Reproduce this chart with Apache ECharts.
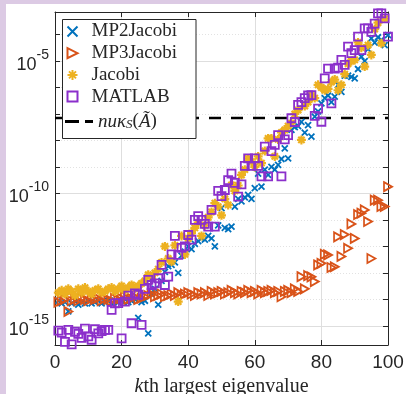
<!DOCTYPE html>
<html><head><meta charset="utf-8">
<script src="https://cdn.jsdelivr.net/npm/echarts@6/dist/echarts.min.js"></script>
<style>
html,body{margin:0;padding:0;background:#fff}
#wrap{position:relative;width:406px;height:394px;background:#dccae4;overflow:hidden}
#paper{position:absolute;left:6px;top:4px;right:0;bottom:0;background:#fff}
#c{position:absolute;left:0;top:0;width:406px;height:394px}
</style>
</head><body>
<div id="wrap"><div id="paper"></div><div id="c"></div></div>
<script>
// k-th largest eigenvalue index
const kth = [1,2,3,4,5,6,7,8,9,10,11,12,13,14,15,16,17,18,19,20,21,22,23,24,25,26,27,28,29,30,
31,32,33,34,35,36,37,38,39,40,41,42,43,44,45,46,47,48,49,50,51,52,53,54,55,56,57,58,59,60,
61,62,63,64,65,66,67,68,69,70,71,72,73,74,75,76,77,78,79,80,81,82,83,84,85,86,87,88,89,90,
91,92,93,94,95,96,97,98,99,100];

// relative errors
const mp2Jacobi = [8.9e-15,7.1e-15,7.9e-15,3.5e-15,7.1e-15,8.9e-15,6.3e-15,7.9e-15,7.1e-15,8.9e-15,
7.1e-15,7.9e-15,8.9e-15,7.1e-15,7.9e-15,8.9e-15,7.1e-15,8.9e-15,7.9e-15,8.9e-15,
1.0e-14,7.9e-15,8.9e-15,1.0e-14,2.0e-15,7.9e-15,8.9e-15,5.2e-16,1.6e-14,2.5e-14,
6.3e-15,5.0e-14,1.1e-13,1.8e-13,2.0e-13,2.5e-13,1.0e-13,4.5e-13,6.3e-13,1.0e-12,
7.9e-13,1.26e-12,1.6e-12,2.0e-12,1.8e-12,2.5e-12,2.0e-12,1.0e-12,6.3e-12,2.8e-11,
5.0e-12,4.5e-12,5.6e-12,3.2e-11,6.3e-11,5.0e-11,7.1e-11,8.9e-11,6.3e-11,1.6e-10,
5.6e-10,1.8e-10,7.9e-10,5.0e-10,1.0e-9,7.9e-10,1.2e-9,2.0e-9,5.0e-9,2.1e-9,
2.5e-8,3.2e-8,3.5e-8,5.0e-8,2.0e-8,3.8e-8,1.4e-8,7.9e-8,1.26e-7,2.5e-7,
4.0e-7,5.0e-7,2.8e-7,4.5e-7,1.26e-6,6.9e-7,2.8e-6,2.8e-6,2.5e-6,2.2e-6,
5.0e-6,1.45e-5,1.0e-5,2.8e-5,7.1e-5,5.0e-5,7.9e-5,6.3e-5,4.0e-5,9.5e-5];

const mp3Jacobi = [7.9e-15,8.9e-15,1.0e-14,3.5e-15,8.9e-15,1.0e-14,8.9e-15,1.1e-14,1.0e-14,8.9e-15,
1.1e-14,1.0e-14,1.1e-14,8.9e-15,1.1e-14,1.0e-14,8.9e-15,1.1e-14,1.0e-14,1.1e-14,
1.26e-14,1.0e-14,1.1e-14,1.26e-14,1.0e-14,1.1e-14,1.26e-14,1.4e-14,1.6e-14,1.26e-14,
1.4e-14,1.6e-14,1.26e-14,1.4e-14,1.6e-14,1.4e-14,1.8e-14,1.4e-14,1.6e-14,1.8e-14,
1.6e-14,1.4e-14,1.8e-14,1.6e-14,1.8e-14,1.4e-14,2.0e-14,1.6e-14,1.8e-14,2.0e-14,
1.6e-14,1.8e-14,2.2e-14,1.8e-14,1.6e-14,2.0e-14,1.8e-14,2.2e-14,1.8e-14,2.0e-14,
1.6e-14,2.2e-14,1.8e-14,2.0e-14,2.2e-14,1.8e-14,2.0e-14,1.26e-14,2.0e-14,2.2e-14,
1.8e-14,2.5e-14,2.0e-14,7.2e-14,2.5e-14,7.9e-14,7.1e-14,4.7e-14,2.0e-13,2.3e-13,
5.0e-13,4.8e-13,1.6e-13,1.7e-13,2.3e-12,4.2e-13,2.8e-12,8.5e-13,7.1e-12,2.0e-12,
1.6e-11,1.8e-11,2.4e-11,8.7e-12,3.5e-13,5.6e-11,5.6e-11,3.2e-11,3.2e-11,1.8e-10];

const jacobi = [1.8e-14,2.2e-14,1.6e-14,2.5e-14,2.0e-14,1.4e-14,2.5e-14,1.8e-14,2.8e-14,2.0e-14,
1.6e-14,2.2e-14,2.5e-14,1.8e-14,2.0e-14,2.5e-14,2.8e-14,2.0e-14,2.5e-14,3.2e-14,
2.2e-14,2.8e-14,3.5e-14,2.5e-14,3.2e-14,4.0e-14,5.0e-14,8.5e-14,6.3e-14,1.0e-13,
1.4e-13,2.5e-13,1.0e-12,3.5e-13,2.7e-13,1.1e-12,8.3e-15,2.5e-12,5.0e-13,2.0e-12,
3.2e-12,5.0e-12,7.9e-12,2.5e-12,6.3e-12,1.26e-11,2.0e-11,4.3e-11,3.2e-11,1.5e-11,
6.3e-11,3.7e-11,2.1e-10,1.26e-10,2.0e-10,5.0e-10,7.9e-10,2.1e-9,1.6e-9,1.0e-9,
2.5e-9,1.4e-9,4.0e-9,1.2e-8,1.2e-8,2.5e-9,1.1e-8,2.0e-8,2.5e-8,3.5e-8,
4.5e-8,1.0e-7,1.4e-7,1.05e-8,2.0e-7,2.8e-7,5.0e-7,4.0e-7,1.26e-6,1.0e-6,
7.9e-7,8.9e-7,1.6e-6,2.0e-6,7.9e-7,1.26e-6,3.2e-6,7.9e-6,1.0e-5,1.1e-5,
5.0e-5,3.2e-5,6.2e-6,4.0e-5,1.7e-5,1.6e-4,2.8e-4,4.7e-5,4.0e-4,7.2e-4];

const matlab = [6.6e-16,5.6e-16,2.5e-16,7.1e-16,2.0e-16,6.0e-16,5.0e-16,3.5e-16,7.9e-16,4.0e-16,
3.0e-16,7.6e-16,5.2e-16,6.3e-16,7.1e-16,7.1e-16,4.0e-15,7.1e-15,7.2e-15,3.4e-16,
8.3e-15,1.4e-14,1.26e-15,1.7e-14,1.5e-14,1.1e-15,2.5e-14,5.5e-14,3.5e-14,4.0e-14,
6.3e-14,2.0e-13,3.5e-14,7.2e-14,5.0e-13,2.5e-12,4.8e-13,8.9e-13,1.0e-12,2.7e-12,
1.8e-12,1.0e-11,1.4e-11,1.0e-11,7.1e-12,5.6e-12,2.4e-11,5.6e-12,1.26e-10,7.9e-11,
1.35e-10,3.2e-10,5.6e-10,2.5e-10,7.6e-11,2.2e-10,1.1e-9,2.1e-9,1.1e-9,2.1e-9,
1.1e-9,4.4e-10,5.9e-9,4.4e-10,4.0e-9,6.8e-9,1.6e-8,4.4e-10,1.1e-8,1.6e-8,
6.9e-8,5.0e-8,2.2e-7,2.8e-7,4.0e-7,5.0e-7,5.2e-7,8.5e-8,1.6e-7,5.1e-8,
2.2e-6,5.2e-6,2.5e-7,5.2e-6,5.6e-6,1.1e-5,7.1e-6,3.5e-5,2.0e-5,2.6e-5,
8.3e-5,2.6e-5,1.7e-4,1.7e-4,1.26e-4,2.6e-4,6.3e-4,6.3e-4,4.1e-4,8.3e-5];

// n u kappa_S(A~) threshold
const thresholdX = [0, 100];
const thresholdY = [7.0e-8, 7.0e-8];

const xTicks = [0, 20, 40, 60, 80, 100];
const yTickValues = [1e-15, 1e-14, 1e-13, 1e-12, 1e-11, 1e-10, 1e-9, 1e-8, 1e-7, 1e-6, 1e-5, 1e-4];
const yLabelValues = [1e-15, 1e-10, 1e-5];

const C_MP2 = '#0072BD', C_MP3 = '#D95319', C_JAC = '#EDB120', C_MAT = '#8B2FCB';
const AX = '#262626';
const pair = arr => arr.map((v, i) => [kth[i], v]);

const chart = echarts.init(document.getElementById('c'), null, {renderer: 'canvas'});
const yMin = 1.9e-16, yMax = 7.1e-4;

function yFmt(v) {
  const num = typeof v === 'number' ? v : parseFloat(v);
  const l = num > 0 ? Math.log10(num) : num;
  const e = Math.round(l);
  if (Math.abs(l - e) > 0.01) return '';
  return '{b|10}{s|' + e + '}';
}

const baseY = {type: 'log', logBase: 10, min: yMin, max: yMax, gridIndex: 0};

chart.setOption({
  backgroundColor: 'transparent',
  animation: false,
  grid: {left: 55, right: 18, top: 12, bottom: 49, containLabel: false, outerBoundsMode: 'none'},
  xAxis: [{
    type: 'value', min: 0, max: 100, interval: 20, position: 'bottom',
    axisLine: {show: true, lineStyle: {color: AX, width: 1}},
    axisTick: {show: true, inside: true, length: 5, lineStyle: {color: AX}},
    axisLabel: {color: AX, fontFamily: 'Liberation Sans', fontSize: 19, margin: 8,
      formatter: v => xTicks.indexOf(v) >= 0 ? String(v) : ''},
    splitLine: {show: true, lineStyle: {color: '#dedede', width: 1}},
    name: '{i|k}th largest eigenvalue', nameLocation: 'middle', nameGap: 27.5,
    nameTextStyle: {color: AX, fontFamily: 'Liberation Serif', fontSize: 20,
      rich: {i: {fontStyle: 'italic', fontFamily: 'Liberation Serif', fontSize: 20, color: AX}}}
  }, {
    type: 'value', min: 0, max: 100, interval: 20, position: 'top',
    axisLine: {show: true, lineStyle: {color: AX, width: 1}},
    axisTick: {show: true, inside: true, length: 5, lineStyle: {color: AX}},
    axisLabel: {show: false}, splitLine: {show: false}
  }],
  yAxis: [Object.assign({}, baseY, {
    position: 'left',
    axisLine: {show: true, lineStyle: {color: AX, width: 1}},
    axisTick: {show: true, inside: true, length: 5, lineStyle: {color: AX}, customValues: yTickValues},
    axisLabel: {show: true, margin: 6, formatter: yFmt, hideOverlap: false, customValues: yLabelValues,
      color: AX, fontFamily: 'Liberation Sans', fontSize: 18,
      rich: {
        b: {fontFamily: 'Liberation Sans', fontSize: 18, color: AX, padding: [8, 0, 0, 0]},
        s: {fontFamily: 'Liberation Sans', fontSize: 14, color: AX, verticalAlign: 'top'}
      }},
    splitLine: {show: true, lineStyle: {color: '#e2e2e2', width: 1, type: [1, 2]}}
  }), Object.assign({}, baseY, {
    position: 'left',
    axisLine: {show: false},
    axisTick: {show: false, customValues: yLabelValues},
    axisLabel: {show: false, customValues: yLabelValues},
    splitLine: {show: true, lineStyle: {color: '#dedede', width: 1}}
  }), Object.assign({}, baseY, {
    position: 'right',
    axisLine: {show: true, lineStyle: {color: AX, width: 1}},
    axisTick: {show: true, inside: true, length: 5, lineStyle: {color: AX}, customValues: yTickValues},
    axisLabel: {show: false, customValues: yLabelValues}, splitLine: {show: false}
  })],
  graphic: [{
    type: 'rect', z: 3, shape: {x: 62.5, y: 19.5, width: 133.5, height: 119},
    style: {fill: '#fff', stroke: AX, lineWidth: 1}
  }],
  legend: [{
    orient: 'vertical', left: 65, top: 22, itemWidth: 28, itemHeight: 10, itemGap: 2.7,
    padding: 0, z: 5,
    data: ['MP2Jacobi', 'MP3Jacobi', 'Jacobi', 'MATLAB'],
    textStyle: {fontFamily: 'Liberation Serif', fontSize: 19, color: AX}
  }, {
    orient: 'vertical', left: 65, top: 112, itemWidth: 28, itemHeight: 10,
    padding: 0, z: 5,
    data: [{name: 'nuk', icon: 'path://M0,0H14V2.8H0Z M20,0H28V2.8H20Z', itemStyle: {color: '#000', borderWidth: 0}}],
    formatter: () => '{i|nuκ}{sub|S}{n|(}{i|Ã}{n|)}',
    textStyle: {fontFamily: 'Liberation Serif', fontSize: 19, color: AX,
      rich: {
        i: {fontFamily: 'Liberation Serif', fontStyle: 'italic', fontSize: 19, color: AX},
        n: {fontFamily: 'Liberation Serif', fontSize: 19, color: AX},
        sub: {fontFamily: 'Liberation Serif', fontStyle: 'italic', fontSize: 13, color: AX, verticalAlign: 'bottom'}
      }}
  }],
  series: [{
    name: 'nuk', type: 'line', xAxisIndex: 0, yAxisIndex: 0, z: 2,
    data: thresholdX.map((x, i) => [x, thresholdY[i]]),
    symbol: 'none', silent: true,
    itemStyle: {color: '#000'},
    lineStyle: {color: '#000', width: 2.5, type: [12, 10]}
  }, {
    name: 'MP2Jacobi', type: 'scatter', xAxisIndex: 0, yAxisIndex: 0, z: 2,
    data: pair(mp2Jacobi),
    symbol: 'path://M0,0L10,10M10,0L0,10', symbolSize: 6,
    itemStyle: {color: 'none', borderColor: C_MP2, borderWidth: 1.8, opacity: 1}
  }, {
    name: 'MP3Jacobi', type: 'scatter', xAxisIndex: 0, yAxisIndex: 0, z: 2,
    data: pair(mp3Jacobi),
    symbol: 'path://M0,0L10,5L0,10Z', symbolSize: [8, 9],
    itemStyle: {color: 'none', borderColor: C_MP3, borderWidth: 1.8, opacity: 1}
  }, {
    name: 'Jacobi', type: 'scatter', xAxisIndex: 0, yAxisIndex: 0, z: 2,
    data: pair(jacobi),
    symbol: 'path://M5,0L5,10M0,5L10,5M1.5,1.5L8.5,8.5M8.5,1.5L1.5,8.5', symbolSize: 9,
    itemStyle: {color: 'none', borderColor: C_JAC, borderWidth: 2.2, opacity: 1}
  }, {
    name: 'MATLAB', type: 'scatter', xAxisIndex: 0, yAxisIndex: 0, z: 2,
    data: pair(matlab),
    symbol: 'path://M0,0H10V10H0Z', symbolSize: 8,
    itemStyle: {color: 'none', borderColor: C_MAT, borderWidth: 1.8, opacity: 1}
  }]
});
</script>
</body></html>
